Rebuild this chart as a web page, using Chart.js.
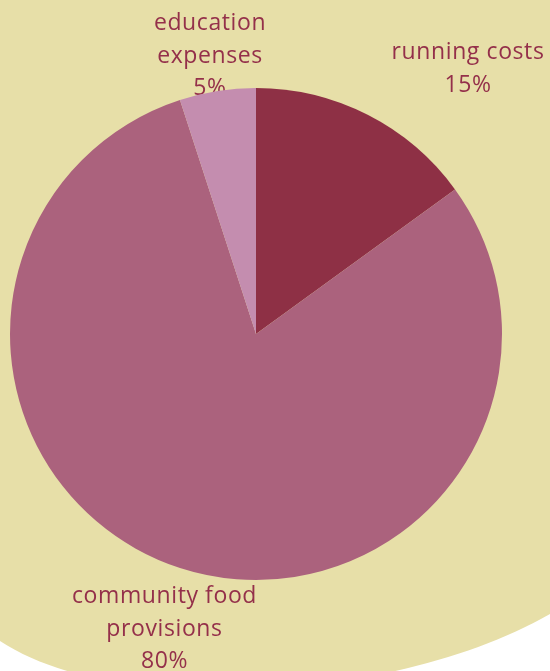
<!DOCTYPE html>
<html>
<head>
<meta charset="utf-8">
<script src="https://cdn.jsdelivr.net/npm/chart.js@4"></script>
<style>
  html, body { margin: 0; padding: 0; background: #ffffff; }
  #wrap { width: 550px; height: 671px; }
</style>
</head>
<body>
<div id="wrap"><canvas id="budgetChart"></canvas></div>
<script>
var categories = ["running costs", "community food provisions", "education expenses"];
var shares = [15, 80, 5];
var labelLines = [["running costs"], ["community food", "provisions"], ["education", "expenses"]];
var sliceColors = ["#8e3045", "#ab627d", "#c48daf"];

// beige backdrop behind the pie
var backdrop = {
  id: "backdrop",
  beforeDraw: function (chart) {
    var c = chart.ctx, w = chart.width;
    c.save();
    c.fillStyle = "#e7dfa8";
    c.beginPath();
    c.moveTo(0, 0);
    c.lineTo(w, 0);
    c.lineTo(w, 614);
    c.bezierCurveTo(400, 700, 120, 720, 0, 641);
    c.closePath();
    c.fill();
    c.restore();
  }
};

// text labels around the slices (offsets in units of the radius), drawn under the pie
var sliceLabels = {
  id: "sliceLabels",
  beforeDatasetsDraw: function (chart, args, opts) {
    var c = chart.ctx;
    var meta = chart.getDatasetMeta(0);
    c.save();
    c.fillStyle = opts.color;
    c.font = opts.font;
    c.letterSpacing = opts.spacing;
    c.textAlign = "center";
    c.textBaseline = "middle";
    meta.data.forEach(function (arc, i) {
      var r = arc.outerRadius;
      var cx = arc.x + opts.offsets[i][0] * r;
      var cy = arc.y + opts.offsets[i][1] * r;
      var lines = labelLines[i].concat([shares[i] + "%"]);
      var top = cy - (lines.length - 1) * opts.lineHeight / 2;
      lines.forEach(function (t, k) {
        c.fillText(t, cx, top + k * opts.lineHeight);
      });
    });
    c.restore();
  }
};

var ctx = document.getElementById("budgetChart").getContext("2d");
var budgetChart = new Chart(ctx, {
  type: "pie",
  data: {
    labels: categories,
    datasets: [{
      data: shares,
      backgroundColor: sliceColors,
      hoverBackgroundColor: sliceColors,
      borderWidth: 0
    }]
  },
  options: {
    responsive: true,
    maintainAspectRatio: false,
    animation: false,
    layout: { padding: { left: 10, right: 48, top: 88, bottom: 91 } },
    plugins: {
      legend: { display: false },
      tooltip: { enabled: false },
      sliceLabels: {
        color: "#94304a",
        font: "400 23px 'Open Sans'",
        spacing: "0.6px",
        lineHeight: 32.5,
        offsets: [[0.862, -1.077], [-0.372, 1.2], [-0.187, -1.13]]
      }
    }
  },
  plugins: [backdrop, sliceLabels]
});
</script>
</body>
</html>
